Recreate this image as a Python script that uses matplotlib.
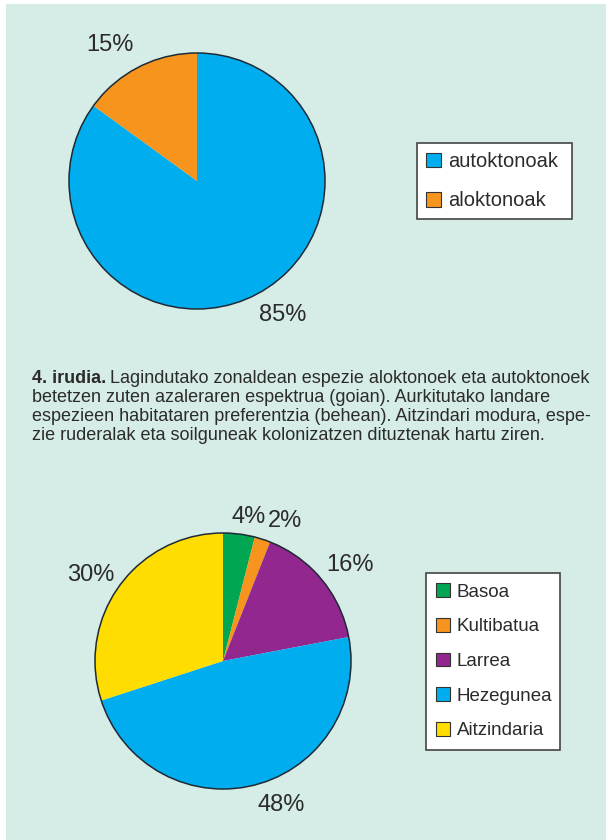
import numpy as np
import matplotlib
matplotlib.use('Agg')
import matplotlib.pyplot as plt
from matplotlib.patches import Circle, Patch, Rectangle

W, H = 606, 840

# goiko grafikoa
labels_1 = ['autoktonoak', 'aloktonoak']
values_1 = [85, 15]
colors_1 = ['#00aeef', '#f7941d']

# beheko grafikoa
labels_2 = ['Basoa', 'Kultibatua', 'Larrea', 'Hezegunea', 'Aitzindaria']
values_2 = [4, 2, 16, 48, 30]
colors_2 = ['#00a651', '#f7941d', '#92278f', '#00aeef', '#ffdd00']

caption_bold = '4. irudia.'
caption_first = 'Lagindutako zonaldean espezie aloktonoek eta autoktonoek'
caption_rest = [
    'betetzen zuten azaleraren espektrua (goian). Aurkitutako landare',
    'espezieen habitataren preferentzia (behean). Aitzindari modura, espe-',
    'zie ruderalak eta soilguneak kolonizatzen dituztenak hartu ziren.',
]

BG = '#d6ece7'
EDGE = '#1e2a36'
TXT = '#2b2b2b'
R = 128      # pie radius, px
S = 360      # pie axes side, px

plt.rcParams['font.family'] = ['Liberation Sans', 'DejaVu Sans']


def px_box(x0, y0, w, h):
    return [x0 / W, 1 - (y0 + h) / H, w / W, h / H]


def draw_pie(cx, cy, values, colors, dists, nudges, fontsize):
    ax = fig.add_axes(px_box(cx - S / 2, cy - S / 2, S, S))
    wedges, _ = ax.pie(values, colors=colors, startangle=90, counterclock=False,
                       radius=1, wedgeprops=dict(linewidth=0))
    ax.add_patch(Circle((0, 0), 1, fill=False, edgecolor=EDGE, lw=1.1))
    for w, v, d, n in zip(wedges, values, dists, nudges):
        ang = np.deg2rad((w.theta1 + w.theta2) / 2 + n)
        ax.text(d * np.cos(ang), d * np.sin(ang), f'{v}%', ha='center', va='center',
                fontsize=fontsize, color=TXT)
    lim = S / (2 * R)
    ax.set_xlim(-lim, lim)
    ax.set_ylim(-lim, lim)
    ax.set_aspect('equal')
    ax.axis('off')
    ax.patch.set_alpha(0)
    return ax


def draw_legend(labels, colors, x0, y0, w, fontsize, spacing, pad):
    handles = [Patch(facecolor=c, edgecolor='#333333', lw=0.8) for c in colors]
    leg = fig.legend(handles, labels, loc='upper left',
                     bbox_to_anchor=(x0 / W, 1 - y0 / H, w / W, 0),
                     bbox_transform=fig.transFigure, mode='expand', borderaxespad=0,
                     fontsize=fontsize, handlelength=0.75, handleheight=0.75,
                     handletextpad=0.35, labelspacing=spacing, borderpad=pad,
                     fancybox=False, framealpha=1, labelcolor=TXT)
    leg.get_frame().set_edgecolor('#444444')
    leg.get_frame().set_linewidth(1.2)
    return leg


fig = plt.figure(figsize=(W / 100, H / 100), dpi=100, facecolor='white')
fig.add_artist(Rectangle((6 / W, 0), 600 / W, 836 / H, transform=fig.transFigure,
                         facecolor=BG, edgecolor='none', zorder=-5))

draw_pie(197, 181, values_1, colors_1, [1.24, 1.26], [5.5, 5.5], 17)
draw_legend(labels_1, colors_1, 417, 143, 155, 14.5, 1.0, 0.45)

draw_pie(223, 661, values_2, colors_2, [1.14, 1.2, 1.24, 1.21, 1.23],
         [-3, -6, -2.6, 7.6, 3], 17)
draw_legend(labels_2, colors_2, 426, 573, 134, 13.5, 0.92, 0.55)

# irudi-oina
cap_size = 13
t = fig.text(32 / W, 1 - 383 / H, caption_bold, fontsize=cap_size, weight='bold',
             color=TXT, va='baseline')
bb = t.get_window_extent(fig.canvas.get_renderer())
fig.text((bb.x1 + 4) / W, 1 - 383 / H, caption_first, fontsize=cap_size,
         color=TXT, va='baseline')
for i, line in enumerate(caption_rest):
    fig.text(32 / W, 1 - (383 + 19 * (i + 1)) / H, line, fontsize=cap_size,
             color=TXT, va='baseline')

fig.savefig('out.png', dpi=100, facecolor='white')
